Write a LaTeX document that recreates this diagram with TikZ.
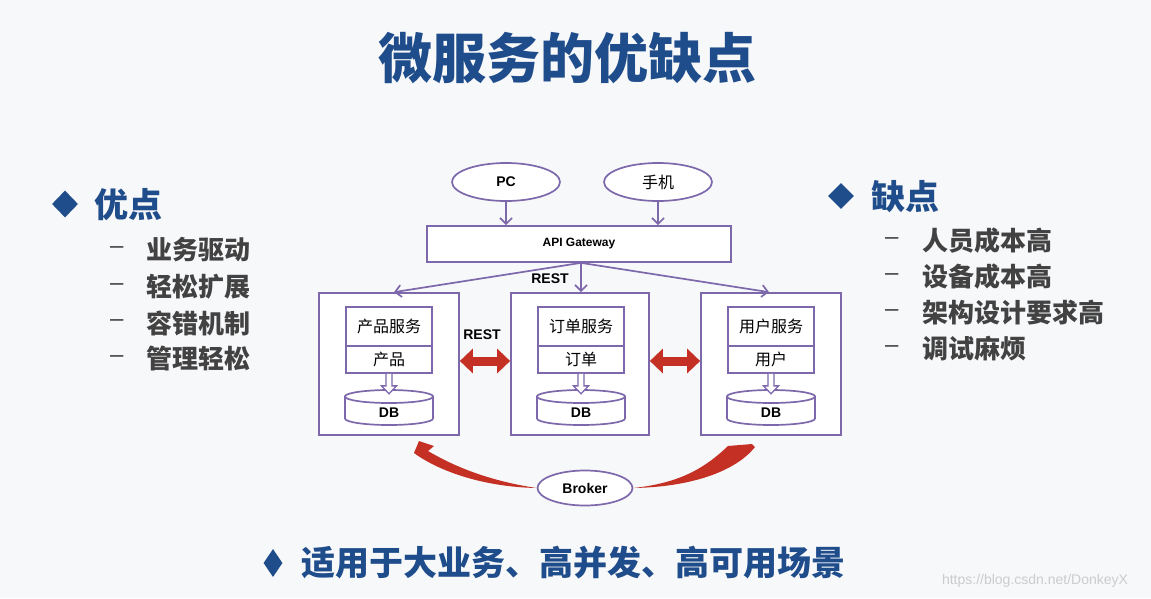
\documentclass[tikz,border=0pt]{standalone}
\usepackage{fontspec}
\setmainfont{Liberation Sans}
\newfontfamily\cjk{Noto Sans CJK SC}
\usetikzlibrary{shapes.geometric,arrows.meta,calc}
\definecolor{vio}{RGB}{124,104,170}
\definecolor{blu}{RGB}{31,76,138}
\definecolor{gtxt}{RGB}{66,66,66}
\definecolor{rd}{RGB}{196,48,36}
\definecolor{bgc}{RGB}{247,248,250}
\pgfdeclarelayer{back}
\pgfsetlayers{back,main}
\newcommand{\mydb}[3]{%
  \draw[draw=vio, line width=1.7pt, fill=white] (#2-44,#3-11) -- (#2-44,#3+11) arc[start angle=180,end angle=0,x radius=44,y radius=6.5] -- (#2+44,#3-11) -- cycle;
  \draw[draw=vio, line width=1.7pt, fill=white] (#2,#3-11) ellipse[x radius=44,y radius=6.5];
  \node[minimum width=88, minimum height=35, inner sep=0pt] (#1) at (#2,#3) {};
  \node[dbtxt] (#1t) at (#2,#3+5.5) {DB};
}
\newcommand{\hollowarrow}[2]{%
  \draw[hol] ($(#1.south)+(-3,0)$) -- ($(#1.south)+(-3,12)$) -- ($(#1.south)+(-7.5,12)$)
    -- ($(#2.north)+(0,4)$) -- ($(#1.south)+(7.5,12)$) -- ($(#1.south)+(3,12)$) -- ($(#1.south)+(3,0)$);
}
\begin{document}
\begin{tikzpicture}[x=1pt,y=-1pt,
  ln/.style={draw=vio, line width=1.7pt},
  ell/.style={ellipse, ln, fill=white, inner sep=0pt, font=\fontsize{14}{14}\selectfont\bfseries},
  bx/.style={rectangle, ln, fill=white, inner sep=0pt},
  svc/.style={bx, minimum width=86, minimum height=39, font=\cjk\fontsize{16}{16}\selectfont},
  dat/.style={bx, minimum width=86, minimum height=27, font=\cjk\fontsize{16}{16}\selectfont},
  arr/.style={draw=vio, line width=1.7pt, -{Straight Barb[length=6pt,width=12pt]}},
  hol/.style={draw=vio, fill=white, line width=1.3pt, line join=miter},
  redarr/.style={draw=rd, line width=9pt, {Triangle[length=13pt,width=24pt]}-{Triangle[length=13pt,width=24pt]}},
  lbl/.style={inner sep=0pt, font=\fontsize{14}{14}\selectfont\bfseries},
  dbtxt/.style={inner sep=0pt, font=\fontsize{14}{14}\selectfont\bfseries},
  head/.style={anchor=west, inner sep=0pt, text=blu, font=\cjk\bfseries\fontsize{34}{34}\selectfont},
  item/.style={anchor=west, inner sep=0pt, text=gtxt, font=\cjk\bfseries\fontsize{26}{26}\selectfont},
  dashtxt/.style={anchor=west, inner sep=0pt, text=gtxt, font=\fontsize{24}{24}\selectfont},
  bullet/.style={diamond, fill=blu, inner sep=0pt, aspect=1}
]
\begin{pgfonlayer}{back}
\fill[bgc] (0,0) rectangle (1151,598);
\end{pgfonlayer}
\useasboundingbox (0,0) rectangle (1151,598);

% title
\node[text=blu, font=\cjk\bfseries\fontsize{54}{54}\selectfont] (title) at (567,58) {微服务的优缺点};

% left list
\node[bullet, minimum width=26, minimum height=27] (dl) at (65,204) {};
\node[head] (hl) at (94,205) {优点};
\node[dashtxt] (dl1) at (110,250) {–};
\node[dashtxt] (dl2) at (110,287) {–};
\node[dashtxt] (dl3) at (110,323) {–};
\node[dashtxt] (dl4) at (110,359) {–};
\node[item] (il1) at (146,250) {业务驱动};
\node[item] (il2) at (146,287) {轻松扩展};
\node[item] (il3) at (146,323) {容错机制};
\node[item] (il4) at (146,359) {管理轻松};

% right list
\node[bullet, minimum width=26, minimum height=26] (dr) at (841,196) {};
\node[head] (hr) at (871,197) {缺点};
\node[dashtxt] (dr1) at (885,241) {–};
\node[dashtxt] (dr2) at (885,277) {–};
\node[dashtxt] (dr3) at (885,313) {–};
\node[dashtxt] (dr4) at (885,349) {–};
\node[item] (ir1) at (922,241) {人员成本高};
\node[item] (ir2) at (922,277) {设备成本高};
\node[item] (ir3) at (922,313) {架构设计要求高};
\node[item] (ir4) at (922,349) {调试麻烦};

% bottom line
\node[bullet, minimum width=19, minimum height=28, aspect=0.68] (db) at (273,563) {};
\node[head] (hb) at (301,563) {适用于大业务、高并发、高可用场景};
\node[text=gray!40, inner sep=0pt, font=\fontsize{14}{14}\selectfont] (wm) at (1035,581) {https://blog.csdn.net/DonkeyX};

% diagram
\node[ell, minimum width=108, minimum height=38] (pc) at (506,182) {PC};
\node[ell, minimum width=108, minimum height=38, font=\cjk\fontsize{16}{16}\selectfont] (phone) at (658,182) {手机};
\node[bx, minimum width=304, minimum height=36, font=\fontsize{12}{12}\selectfont\bfseries] (gw) at (579,244) {API Gateway};
\draw[arr] (pc.south) -- (pc.south |- gw.north);
\draw[arr] (phone.south) -- (phone.south |- gw.north);

\node[bx, minimum width=140, minimum height=142] (lbox) at (389,364) {};
\node[bx, minimum width=138, minimum height=142] (mbox) at (580,364) {};
\node[bx, minimum width=140, minimum height=142] (rbox) at (771,364) {};

\coordinate (gws) at ($(gw.south)+(2,0)$);
\draw[arr] (gws) -- ($(lbox.north)+(5,0)$);
\draw[arr] (gws) -- (gws |- mbox.north);
\draw[arr] (gws) -- ($(rbox.north)+(-2,0)$);
\node[lbl] (rest1) at (550,279) {REST};

\node[svc] (ls) at (389,326.5) {产品服务};
\node[dat] (ld) at (389,359.5) {产品};
\node[svc] (ms) at (581,326.5) {订单服务};
\node[dat] (md) at (581,359.5) {订单};
\node[svc] (rs) at (771,326.5) {用户服务};
\node[dat] (rd) at (771,359.5) {用户};

\mydb{ldb}{389}{407.5}
\mydb{mdb}{581}{407.5}
\mydb{rdb}{771}{407.5}
\hollowarrow{ld}{ldb}
\hollowarrow{md}{mdb}
\hollowarrow{rd}{rdb}

\draw[redarr] ($(lbox.east)+(0,-3)$) -- ($(mbox.west)+(0,-3)$);
\draw[redarr] ($(mbox.east)+(0,-3)$) -- ($(rbox.west)+(0,-3)$);
\node[lbl] (rest2) at (482,335) {REST};

\node[ell, minimum width=95, minimum height=35] (broker) at (585,488) {Broker};
\begin{pgfonlayer}{back}
\fill[rd] (broker.west) .. controls (485,487) and (440,472) .. (414,453) -- (419,441) -- (434,446) -- (428,451) .. controls (455,467) and (490,481) .. (broker.west) -- cycle;
\fill[rd] (broker.east) .. controls (690,487) and (735,472) .. (755,447) -- (752,444) -- (728,446) .. controls (705,468) and (680,483) .. (broker.east) -- cycle;
\end{pgfonlayer}
\end{tikzpicture}
\end{document}
